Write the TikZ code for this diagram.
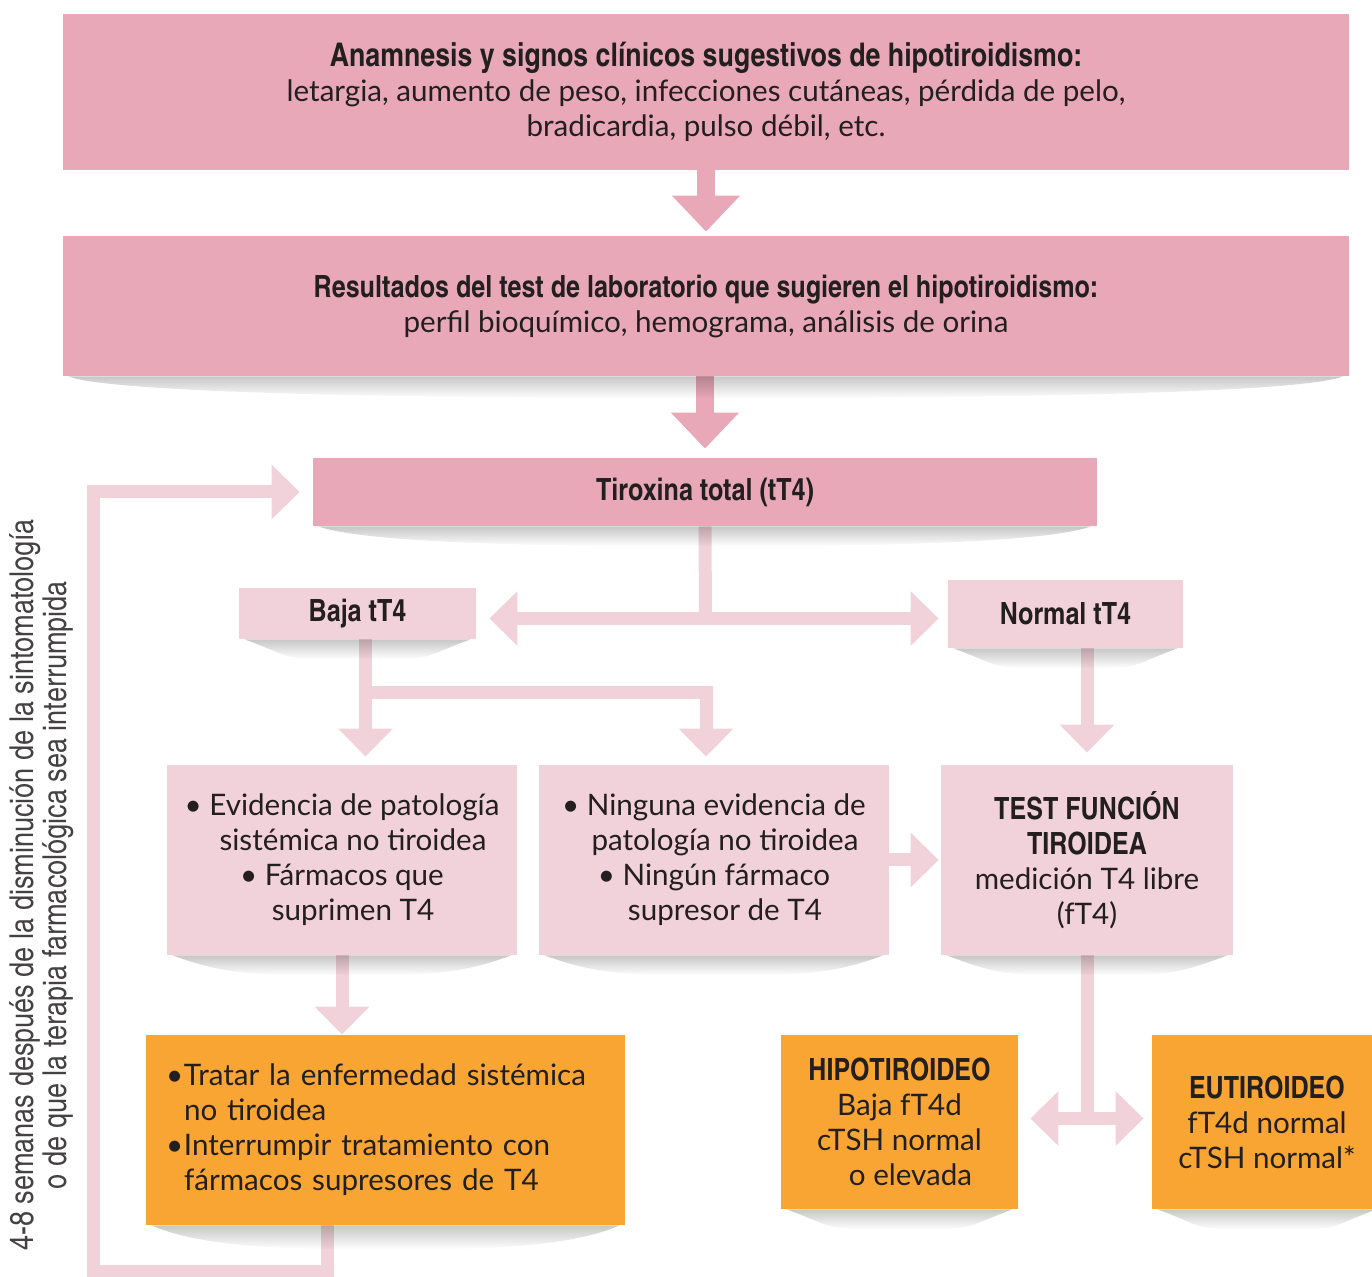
\documentclass[tikz,border=0pt]{standalone}
\usepackage{fontspec}
\setmainfont{Lato}
\newfontfamily\condboldf{texgyreheroscn-bold.otf}
\newfontfamily\condreg{texgyreheroscn-regular.otf}
\newcommand\condbold{\condboldf\fontsize{15.3}{17.5}\selectfont}
\usetikzlibrary{arrows.meta,calc,fadings}
\pgfdeclarelayer{conn}
\pgfdeclarelayer{shad}
\pgfsetlayers{conn,shad,main}
\definecolor{dpink}{HTML}{E8A8B8}
\definecolor{lpink}{HTML}{F1D1DA}
\definecolor{orng}{HTML}{F8A533}
\definecolor{txt}{HTML}{231F20}
\tikzfading[name=shfade, top color=transparent!45, bottom color=transparent!100]
\newcommand\boxshadow[2]{%
  \fill[black,opacity=.4,path fading=shfade]
   ([xshift=3pt]#1.south west) -- ([xshift=-3pt]#1.south east)
   .. controls ([xshift=-30pt,yshift=-#2]#1.south east) and ([xshift=40pt,yshift=-#2]#1.south) .. ([yshift=-#2]#1.south)
   .. controls ([xshift=-40pt,yshift=-#2]#1.south) and ([xshift=30pt,yshift=-#2]#1.south west) .. ([xshift=3pt]#1.south west) -- cycle;}
\tikzset{
  bx/.style={rectangle, inner sep=0pt, align=center, text=txt, font=\fontsize{14.8}{17.5}\selectfont},
  dbox/.style={bx, fill=dpink},
  lbox/.style={bx, fill=lpink},
  obox/.style={bx, fill=orng},
  dline/.style={draw=dpink, line width=9pt},
  darr/.style={dline, -{Triangle[width=33pt,length=18pt]}},
  lline/.style={draw=lpink, line width=6.5pt},
  larr/.style={lline, -{Triangle[width=26.5pt,length=14pt]}},
}
\begin{document}
\begin{tikzpicture}[x=0.5pt,y=-0.5pt]
\useasboundingbox (0,0) rectangle (1372,1277);
% boxes
\node[dbox, minimum width=643pt, minimum height=78pt] (b1) at (706,92)
  {{\condboldf\fontsize{16.3}{17.5}\selectfont Anamnesis y signos clínicos sugestivos de hipotiroidismo:}\\
   letargia, aumento de peso, infecciones cutáneas, pérdida de pelo,\\
   bradicardia, pulso débil, etc.};
\node[dbox, minimum width=643pt, minimum height=70pt] (b2) at (706,306)
  {{\condbold Resultados del test de laboratorio que sugieren el hipotiroidismo:}\\
   perfil bioquímico, hemograma, análisis de orina};
\node[dbox, minimum width=392pt, minimum height=34pt] (tir) at (705,492)
  {\condbold Tiroxina total (tT4)};
\node[lbox, minimum width=118.5pt, minimum height=25.5pt] (baja) at (357.5,613.5)
  {\condbold Baja tT4};
\node[lbox, minimum width=117.5pt, minimum height=34pt] (normal) at (1065.5,614)
  {\condbold Normal tT4};
\node[lbox, minimum width=175pt, minimum height=95pt] (ev) at (342,860)
  {• Evidencia de patología\\\hspace*{11pt}sistémica no tiroidea\\• Fármacos que\\\hspace*{11pt}suprimen T4};
\node[lbox, minimum width=175pt, minimum height=95pt] (nin) at (714,860)
  {• Ninguna evidencia de\\\hspace*{11pt}patología no tiroidea\\• Ningún fármaco\\\hspace*{11pt}supresor de T4};
\node[lbox, minimum width=146pt, minimum height=95pt] (test) at (1087,860)
  {{\condbold TEST FUNCIÓN}\\{\condbold TIROIDEA}\\medición T4 libre\\(fT4)};
\node[obox, align=left, text width=219.5pt, inner xsep=10pt, minimum height=95pt] (trt) at (385.5,1130)
  {\makebox[9pt][l]{•}Tratar la enfermedad sistémica\\\hspace*{9pt}no tiroidea\\
   \makebox[9pt][l]{•}Interrumpir tratamiento con\\\hspace*{9pt}fármacos supresores de T4};
\node[obox, minimum width=118.5pt, minimum height=87pt] (hipo) at (899.5,1122)
  {{\condbold HIPOTIROIDEO}\\Baja fT4d\\cTSH normal\\\hspace*{11pt}o elevada};
\node[obox, minimum width=115pt, minimum height=87pt] (eut) at (1267,1122)
  {{\condbold EUTIROIDEO}\\fT4d normal\\cTSH normal*};
\node[rotate=90, align=center, text=txt!85, font=\condreg\fontsize{16.5}{16.5}\selectfont] (side) at (41.5,885)
  {4-8 semanas después de la disminución de la sintomatología\\o de que la terapia farmacológica sea interrumpida};
% coordinates
\coordinate (tsplit) at (705.5,618.5);
\coordinate (bsplit) at (365.5,692.5);
\coordinate (esplit) at (1087,1118.5);
\coordinate (loopc) at (93.5,1271);
% connectors
\begin{pgfonlayer}{conn}
\draw[darr, shorten >=2pt] (b1.south) -- (b2.north);
\draw[darr, shorten >=4.5pt] (b2.south -| tir.north) -- (tir.north);
\draw[lline] (tir.south) -- (tsplit);
\draw[larr] (tsplit) -- ([xshift=6.5pt]baja.east |- tsplit);
\draw[larr] (tsplit) -- ([xshift=-4.5pt]normal.west |- tsplit);
\draw[larr] ([xshift=4pt]baja.south) -- ([xshift=4pt,yshift=4pt]baja.south |- ev.north);
\draw[larr] (bsplit) -| ([xshift=-4pt,yshift=4pt]nin.north);
\draw[larr] (normal.south -| test.north) -- ([yshift=6pt]test.north);
\draw[larr] (nin.east) -- ([xshift=-1pt]test.west);
\draw[larr] (ev.south) -- (ev.south |- trt.north);
\draw[lline] (test.south) -- (esplit);
\draw[larr] (esplit) -- ([xshift=6pt]hipo.east |- esplit);
\draw[larr] (esplit) -- ([xshift=-4pt]eut.west |- esplit);
\draw[larr] ([xshift=-29pt]trt.south) |- (loopc) |- ([xshift=-6.5pt]tir.west);
\end{pgfonlayer}
% shadows
\begin{pgfonlayer}{shad}
\boxshadow{b2}{11pt}
\boxshadow{tir}{10pt}
\boxshadow{baja}{10pt}
\boxshadow{normal}{10pt}
\boxshadow{ev}{10pt}
\boxshadow{nin}{10pt}
\boxshadow{test}{10pt}
\boxshadow{trt}{12pt}
\boxshadow{hipo}{10pt}
\boxshadow{eut}{10pt}
\end{pgfonlayer}
\end{tikzpicture}
\end{document}
